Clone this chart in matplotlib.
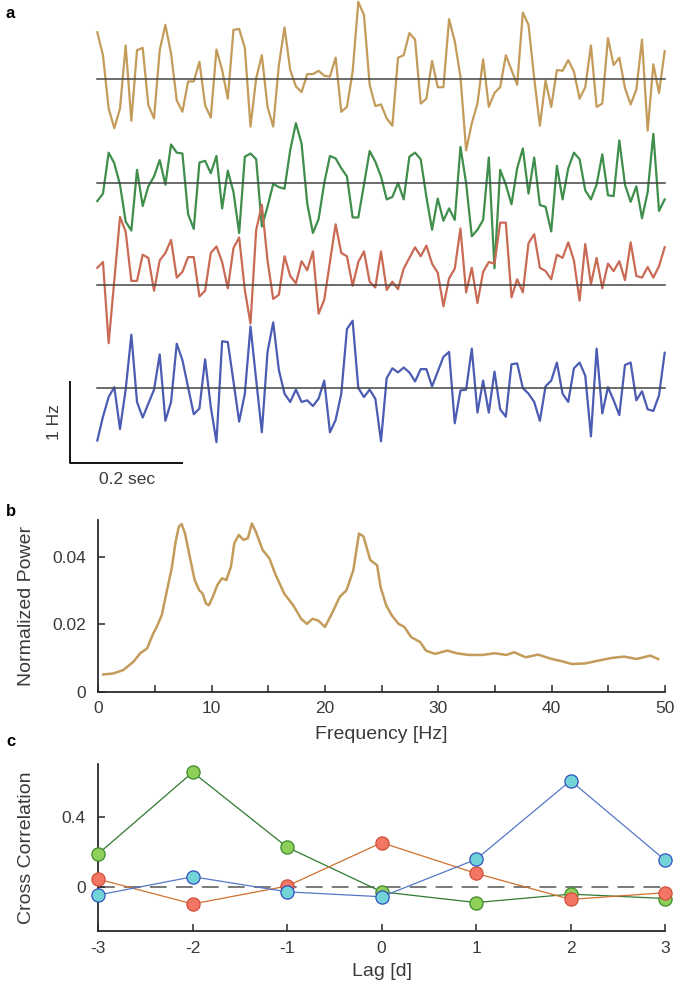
import matplotlib.pyplot as plt
import numpy as np

plt.rcParams['font.family'] = ['Liberation Sans', 'DejaVu Sans']
plt.rcParams['axes.unicode_minus'] = False

# ---- panel a: firing-rate deviations [Hz], sampled every 10 ms ----
dt = 0.01
gold_rate = [0.57, 0.29, -0.36, -0.60, -0.36, 0.41, -0.51, 0.35, 0.38, -0.32,
             -0.48, 0.35, 0.66, 0.31, -0.26, -0.40, -0.03, -0.03, 0.21, -0.32,
             -0.47, 0.36, 0.11, -0.24, 0.60, 0.61, 0.38, -0.58, 0.01, 0.29,
             -0.34, -0.58, 0.17, 0.63, 0.11, -0.09, -0.16, 0.06, 0.06, 0.10,
             0.04, 0.03, 0.26, -0.40, -0.34, 0.09, 0.94, 0.78, -0.07, -0.33,
             -0.31, -0.48, -0.57, 0.26, 0.29, 0.56, 0.48, -0.30, -0.24, 0.22,
             -0.10, -0.10, 0.73, 0.46, 0.03, -0.87, -0.54, -0.30, 0.24, -0.34,
             -0.17, -0.10, 0.29, 0.11, -0.07, 0.81, 0.66, 0.01, -0.57, -0.02,
             -0.34, 0.11, 0.10, 0.23, 0.09, -0.24, -0.10, 0.41, -0.34, -0.30,
             0.50, 0.17, 0.26, -0.11, -0.31, -0.13, 0.48, -0.63, 0.18, -0.17,
             0.34]
green_rate = [-0.22, -0.13, 0.37, 0.24, -0.02, -0.47, -0.58, 0.16, -0.28, -0.04,
              0.08, 0.28, -0.02, 0.47, 0.37, 0.36, -0.38, -0.56, 0.25, 0.27,
              0.12, 0.33, -0.31, 0.15, -0.11, -0.61, 0.32, 0.36, 0.29, -0.53,
              -0.29, -0.01, -0.05, -0.07, 0.40, 0.73, 0.48, -0.25, -0.61, -0.44,
              0.00, 0.33, 0.30, 0.18, 0.08, -0.42, -0.42, -0.02, 0.39, 0.26,
              0.08, -0.20, -0.17, 0.00, -0.20, 0.32, 0.37, 0.29, -0.17, -0.57,
              -0.19, -0.46, -0.31, -0.45, 0.44, 0.00, -0.65, -0.57, -0.45, 0.31,
              -1.04, 0.16, -0.02, -0.26, 0.18, 0.42, -0.13, 0.31, -0.27, -0.29,
              -0.59, 0.21, -0.20, 0.18, 0.37, 0.29, -0.09, -0.20, -0.02, 0.35,
              -0.15, -0.16, 0.52, -0.02, -0.23, -0.04, -0.43, -0.11, 0.60, -0.34,
              -0.20]
red_rate = [0.21, 0.28, -0.71, 0.06, 0.83, 0.65, 0.05, 0.05, 0.37, 0.33,
            -0.07, 0.30, 0.39, 0.55, 0.09, 0.16, 0.34, 0.34, -0.14, -0.07,
            0.39, 0.47, 0.28, -0.04, 0.45, 0.58, -0.06, -0.47, 0.67, 0.98,
            0.30, -0.17, -0.12, 0.35, 0.11, 0.02, 0.29, 0.18, 0.41, -0.35,
            -0.18, 0.28, 0.74, 0.39, 0.35, -0.01, 0.28, 0.41, 0.04, -0.03,
            0.41, -0.06, 0.04, -0.05, 0.20, 0.33, 0.46, 0.35, 0.48, 0.26,
            0.15, -0.26, 0.08, 0.20, 0.69, -0.09, 0.21, -0.22, 0.16, 0.28,
            0.26, 0.76, 0.76, -0.15, 0.07, -0.09, 0.51, 0.62, 0.21, 0.17,
            0.07, 0.37, 0.33, 0.52, 0.30, -0.19, 0.50, 0.01, 0.33, -0.04,
            0.26, 0.17, 0.29, 0.06, 0.52, 0.11, 0.09, 0.22, 0.09, 0.23,
            0.46]
blue_rate = [-0.64, -0.35, -0.11, 0.01, -0.50, -0.02, 0.65, -0.17, -0.36, -0.19,
             -0.02, 0.41, -0.40, -0.17, 0.54, 0.34, 0.01, -0.32, -0.25, 0.35,
             -0.23, -0.66, 0.57, 0.56, 0.08, -0.41, -0.07, 0.75, 0.10, -0.54,
             0.44, 0.80, 0.22, -0.07, -0.17, -0.02, -0.17, -0.15, -0.22, -0.13,
             0.09, -0.54, -0.39, -0.07, 0.72, 0.82, 0.00, -0.11, -0.02, -0.13,
             -0.65, 0.12, 0.24, 0.19, 0.25, 0.19, 0.08, 0.23, 0.23, 0.02,
             0.20, 0.38, 0.44, -0.43, -0.03, -0.02, 0.48, -0.30, 0.09, -0.30,
             0.20, -0.26, -0.35, 0.29, 0.30, 0.00, -0.07, -0.17, -0.40, 0.02,
             0.09, 0.31, -0.07, -0.17, 0.24, 0.31, 0.15, -0.59, 0.48, -0.31,
             0.01, -0.15, -0.33, 0.28, 0.31, -0.15, -0.04, -0.26, -0.28, -0.09,
             0.43]

# ---- panel b: power spectrum ----
freq = [0.44, 1.3, 2.2, 3.1, 3.7, 4.3, 4.85, 5.1, 5.6, 6.0, 6.5, 6.8, 7.1, 7.35,
        7.65, 8.1, 8.5, 8.9, 9.2, 9.5, 9.75, 10.1, 10.5, 10.9, 11.3, 11.7, 12.0,
        12.4, 12.8, 13.2, 13.55, 13.9, 14.5, 15.1, 15.6, 16.4, 17.2, 17.9, 18.4,
        18.9, 19.4, 20.0, 20.6, 21.3, 21.9, 22.5, 23.0, 23.4, 24.0, 24.6, 24.9,
        25.4, 25.9, 26.5, 27.0, 27.6, 28.4, 28.9, 29.7, 30.8, 31.6, 32.7, 33.9,
        35.0, 36.0, 36.7, 37.7, 38.8, 40.0, 40.7, 41.8, 43.0, 44.1, 45.3, 46.4,
        47.5, 48.7, 49.4]
power = [0.0051, 0.0054, 0.0064, 0.0089, 0.0114, 0.0128, 0.0173, 0.0188, 0.0227,
         0.0291, 0.0370, 0.0440, 0.0489, 0.0497, 0.0469, 0.0395, 0.0331, 0.0301,
         0.0291, 0.0261, 0.0256, 0.0281, 0.0316, 0.0336, 0.0331, 0.0370, 0.0440,
         0.0465, 0.0450, 0.0455, 0.0499, 0.0474, 0.0420, 0.0395, 0.0350, 0.0291,
         0.0256, 0.0216, 0.0201, 0.0216, 0.0211, 0.0192, 0.0231, 0.0281, 0.0301,
         0.0360, 0.0469, 0.0460, 0.0390, 0.0375, 0.0311, 0.0256, 0.0226, 0.0201,
         0.0192, 0.0162, 0.0147, 0.0122, 0.0112, 0.0122, 0.0114, 0.0109, 0.0109,
         0.0114, 0.0109, 0.0117, 0.0102, 0.0110, 0.0097, 0.0092, 0.0082, 0.0084,
         0.0092, 0.0100, 0.0104, 0.0097, 0.0107, 0.0097]

# ---- panel c: cross correlation ----
lags = [-3, -2, -1, 0, 1, 2, 3]
cc_green = [0.188, 0.652, 0.225, -0.029, -0.090, -0.042, -0.067]
cc_red = [0.043, -0.098, 0.004, 0.251, 0.076, -0.072, -0.034]
cc_blue = [-0.047, 0.057, -0.029, -0.057, 0.156, 0.604, 0.152]

GOLD = '#C39B5A'
GREEN = '#3F8E4B'
RED = '#C96A55'
BLUE = '#4B5CB2'
AX = '#2a2a2a'
TXT = '#3a3a3a'

fig = plt.figure(figsize=(6.75, 9.86), dpi=100)
W, H = 675.0, 986.0

def px_axes(left, top, right, bottom):
    return fig.add_axes([left / W, 1 - bottom / H, (right - left) / W, (bottom - top) / H])

# panel a
axa = fig.add_axes([0, 1 - 490 / H, 1, 490 / H])
x0, xs = 97.3, 567.4     # pixel of t=0, pixels per second
y0, ys = 388.0, 82.0     # pixel of blue baseline, pixels per Hz
axa.set_xlim(-x0 / xs, (W - x0) / xs)
axa.set_ylim((y0 - 490) / ys, y0 / ys)
axa.axis('off')
t = np.arange(len(gold_rate)) * dt
offsets = [(y0 - 79) / ys, (y0 - 183) / ys, (y0 - 285) / ys, 0.0]
for rate, col, off in zip([gold_rate, green_rate, red_rate, blue_rate],
                          [GOLD, GREEN, RED, BLUE], offsets):
    axa.plot(t, np.array(rate) + off, color=col, lw=1.6, zorder=2)
    axa.plot([t[0], t[-1]], [off, off], color='#444444', lw=1.1, zorder=3)
# scale bar
sbx = (70 - x0) / xs
sby = (y0 - 463) / ys
axa.plot([sbx, sbx, sbx + 0.2], [sby + 1.0, sby, sby], color='black', lw=1.3,
         solid_capstyle='butt', clip_on=False)
axa.text(sbx - 0.027, sby + 0.5, '1 Hz', rotation=90, ha='center', va='center',
         fontsize=12.5, color=TXT)
axa.text(sbx + 0.1, sby - 0.2, '0.2 sec', ha='center', va='center',
         fontsize=12.5, color=TXT)

def style(ax):
    for s in ['top', 'right']:
        ax.spines[s].set_visible(False)
    for s in ['left', 'bottom']:
        ax.spines[s].set_color(AX)
        ax.spines[s].set_linewidth(1.3)
    ax.tick_params(direction='in', length=5, width=1.1, colors=AX,
                   labelcolor=TXT, labelsize=12.5)
    ax.tick_params(axis='x', pad=7)
    ax.tick_params(axis='y', pad=9)

# panel b
axb = px_axes(98.3, 520, 665, 691.7)
axb.plot(freq, power, color=GOLD, lw=1.8)
axb.set_xlim(0, 50)
axb.set_ylim(0, 0.0509)
axb.set_xticks(np.arange(0, 51, 5))
axb.set_xticklabels([str(v) if v % 10 == 0 else '' for v in range(0, 51, 5)])
axb.set_yticks([0, 0.02, 0.04])
axb.set_yticklabels(['0', '0.02', '0.04'])
style(axb)
axb.set_xlabel('Frequency [Hz]', fontsize=14, color=TXT)
axb.set_ylabel('Normalized Power', fontsize=14, color=TXT)
axb.xaxis.set_label_coords(0.5, -0.20)
axb.yaxis.set_label_coords(-0.112, 0.5)

# panel c
axc = px_axes(98.3, 764, 665, 931)
axc.axhline(0, color='#555555', lw=1.1, dashes=(11, 6), zorder=1)
axc.plot(lags, cc_green, color='#2F7A2F', lw=0.9, marker='o', ms=9.5,
         mfc='#8FD05A', mec='#3F8A2A', mew=0.9, clip_on=False, zorder=3)
axc.plot(lags, cc_red, color='#D0702E', lw=0.9, marker='o', ms=9.5,
         mfc='#F37563', mec='#D0503A', mew=0.9, clip_on=False, zorder=4)
axc.plot(lags, cc_blue, color='#5577C8', lw=0.9, marker='o', ms=9.5,
         mfc='#73D4D8', mec='#2F4FC0', mew=0.9, clip_on=False, zorder=5)
axc.set_xlim(-3, 3)
axc.set_ylim(-0.252, 0.699)
axc.set_xticks(lags)
axc.set_yticks([0, 0.4])
axc.set_yticklabels(['0', '0.4'])
style(axc)
axc.set_xlabel('Lag [d]', fontsize=14, color=TXT)
axc.set_ylabel('Cross Correlation', fontsize=14, color=TXT)
axc.xaxis.set_label_coords(0.5, -0.19)
axc.yaxis.set_label_coords(-0.112, 0.5)

# panel letters
for lab, y in [('a', 14), ('b', 512), ('c', 742)]:
    fig.text(6 / W, 1 - y / H, lab, fontsize=12, fontweight='bold',
             ha='left', va='center')

fig.savefig('out.png', dpi=100)
